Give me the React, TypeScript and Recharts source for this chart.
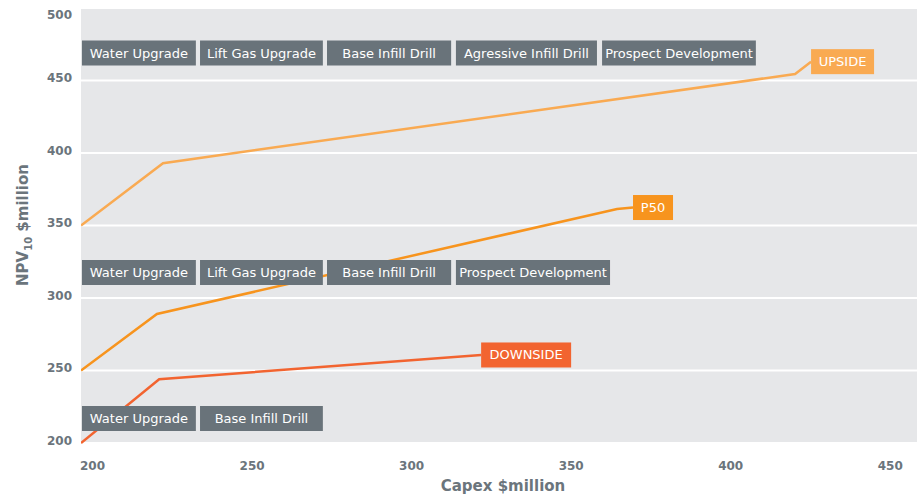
import React from 'react';
import { LineChart, Line, XAxis, YAxis, CartesianGrid, ReferenceArea } from 'recharts';

// Capex ($million) vs NPV10 ($million) for each scenario
const upside = [
    { capex: 200, npv: 350 },
    { capex: 225.7, npv: 393 },
    { capex: 423.8, npv: 454.5 },
    { capex: 428.8, npv: 463 },
];
const p50 = [
    { capex: 200, npv: 250 },
    { capex: 223.8, npv: 289 },
    { capex: 368, npv: 361.4 },
    { capex: 373, npv: 362.4 },
];
const downside = [
    { capex: 200, npv: 200 },
    { capex: 224.5, npv: 244 },
    { capex: 325.4, npv: 260.7 },
];

const xTicks = [200, 250, 300, 350, 400, 450];
const yTicks = [200, 250, 300, 350, 400, 450, 500];

// Project steps per scenario: [label, capex from, capex to]
const upsideSteps: [string, number, number][] = [
    ['Water Upgrade', 200.3, 236],
    ['Lift Gas Upgrade', 237.3, 275.8],
    ['Base Infill Drill', 277.1, 316],
    ['Agressive Infill Drill', 317.5, 361.7],
    ['Prospect Development', 363.3, 411.5],
];
const p50Steps: [string, number, number][] = [
    ['Water Upgrade', 200.3, 236],
    ['Lift Gas Upgrade', 237.3, 275.8],
    ['Base Infill Drill', 277.1, 316],
    ['Prospect Development', 317.5, 365.8],
];
const downsideSteps: [string, number, number][] = [
    ['Water Upgrade', 200.3, 236],
    ['Base Infill Drill', 237.3, 275.8],
];

// NPV band for each row of step boxes
const upsideBand = [460.3, 477.6];
const p50Band = [309, 326.2];
const downsideBand = [208.3, 225.5];

const FONT = '"DejaVu Sans", Verdana, sans-serif';
const AXIS_GREY = '#6b757c';
const BOX_GREY = '#69737a';

const colors = {
    upside: '#f9aa52',
    p50: '#f7941e',
    downside: '#f26430',
};

const XTick = ({ x, y, payload }: any) => (
    <text x={x - 1} y={y + 19} textAnchor="start" fill={AXIS_GREY} fontSize={12} fontWeight={700} fontFamily={FONT}>
        {payload.value}
    </text>
);

const YTick = ({ y, payload }: any) => (
    <text x={72} y={Math.max(y + 1.5, 19)} textAnchor="end" fill={AXIS_GREY} fontSize={12} fontWeight={700} fontFamily={FONT}>
        {payload.value}
    </text>
);

const YTitle = () => (
    <text transform="translate(28,225) rotate(-90)" textAnchor="middle" fill={AXIS_GREY} fontSize={15} fontWeight={700} fontFamily={FONT}>
        NPV<tspan fontSize={10} dy={4}>10</tspan>
        <tspan dy={-4}> $million</tspan>
    </text>
);

const XTitle = () => (
    <text x={503} y={491} textAnchor="middle" fill={AXIS_GREY} fontSize={15} fontWeight={700} fontFamily={FONT}>
        Capex $million
    </text>
);

// tag box drawn at the last point of a line
const endTag = (text: string, width: number, color: string, count: number) => (props: any) => {
    const { x, y, index } = props;
    if (index !== count - 1) return null;
    return (
        <g>
            <rect x={x} y={y - 12.5} width={width} height={25} fill={color} />
            <text x={x + width / 2} y={y + 4.5} textAnchor="middle" fill="#fff" fontSize={13} fontFamily={FONT}>
                {text}
            </text>
        </g>
    );
};

const stepBoxes = (steps: [string, number, number][], band: number[], key: string) =>
    steps.map(([name, x1, x2]) => (
        <ReferenceArea
            key={key + name}
            x1={x1}
            x2={x2}
            y1={band[0]}
            y2={band[1]}
            fill={BOX_GREY}
            fillOpacity={1}
            stroke="none"
            zIndex={450}
            label={{ value: name, position: 'center', fill: '#fff', fontSize: 13, fontFamily: FONT }}
        />
    ));

export default function App() {
    return (
        <div style={{ position: 'absolute', left: 0, top: 0, width: 919, height: 499, background: '#fff' }}>
            <LineChart width={919} height={499} margin={{ top: 8, right: 2, bottom: 0, left: 0 }}>
                <CartesianGrid vertical={false} fill="#e6e7e9" stroke="#ffffff" strokeWidth={2} />
                <XAxis
                    type="number"
                    dataKey="capex"
                    domain={[200, 462]}
                    ticks={xTicks}
                    allowDataOverflow
                    axisLine={false}
                    tickLine={false}
                    tick={<XTick />}
                    height={56}
                    label={<XTitle />}
                />
                <YAxis
                    type="number"
                    domain={[200, 500]}
                    ticks={yTicks}
                    axisLine={false}
                    tickLine={false}
                    width={81}
                    tick={<YTick />}
                    label={<YTitle />}
                />
                <Line data={upside} dataKey="npv" stroke={colors.upside} strokeWidth={2.5} dot={false} isAnimationActive={false}
                    label={endTag('UPSIDE', 63, colors.upside, upside.length)} />
                <Line data={p50} dataKey="npv" stroke={colors.p50} strokeWidth={2.5} dot={false} isAnimationActive={false}
                    label={endTag('P50', 40, colors.p50, p50.length)} />
                <Line data={downside} dataKey="npv" stroke={colors.downside} strokeWidth={2.5} dot={false} isAnimationActive={false}
                    label={endTag('DOWNSIDE', 90, colors.downside, downside.length)} />
                {stepBoxes(upsideSteps, upsideBand, 'up')}
                {stepBoxes(p50Steps, p50Band, 'p50')}
                {stepBoxes(downsideSteps, downsideBand, 'down')}
            </LineChart>
        </div>
    );
}
